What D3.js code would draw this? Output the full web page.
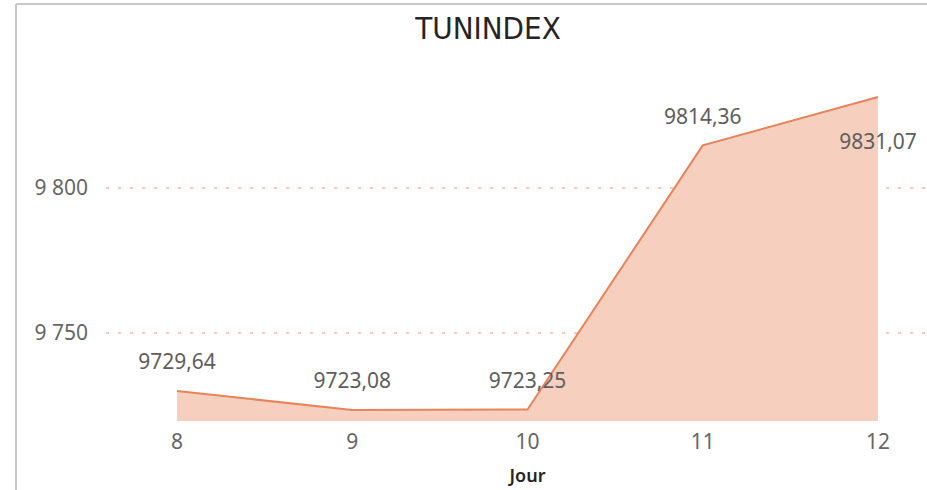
<!DOCTYPE html>
<html>
<head>
<meta charset="utf-8">
<script src="https://cdn.jsdelivr.net/npm/d3@7"></script>
<style>
  body { margin: 0; background: #fff; }
  svg { display: block; }
</style>
</head>
<body>
<div id="container"></div>
<script>
// data
const jours = [8, 9, 10, 11, 12];
const valeurs = [9729.64, 9723.08, 9723.25, 9814.36, 9831.07];
const yTicks = [9750, 9800];

const width = 927, height = 490;

const svg = d3.select("#container").append("svg")
  .attr("width", width)
  .attr("height", height);

// card border (left + top)
svg.append("line").attr("x1", 16).attr("x2", 16).attr("y1", 4).attr("y2", height)
  .attr("stroke", "#c8c8c8").attr("stroke-width", 2);
svg.append("line").attr("x1", 16).attr("x2", width).attr("y1", 4).attr("y2", 4)
  .attr("stroke", "#c8c8c8").attr("stroke-width", 2);

// title
svg.append("text")
  .attr("x", 488).attr("y", 39)
  .attr("text-anchor", "middle")
  .style("font-family", "'DejaVu Sans Condensed', 'Liberation Sans Narrow', sans-serif")
  .style("font-size", "31px")
  .attr("fill", "#252423")
  .text("TUNINDEX");

const x = d3.scaleLinear().domain([8, 12]).range([177, 878]);
const y = d3.scaleLinear().domain([9719.3, 9843.8]).range([421, 60]);

const fontLbl = "'Segoe UI', 'Noto Sans', 'Open Sans', sans-serif";

// gridlines
svg.selectAll(".grid")
  .data(yTicks)
  .join("line")
  .attr("class", "grid")
  .attr("x1", 106).attr("x2", width)
  .attr("y1", d => y(d) + 1).attr("y2", d => y(d) + 1)
  .attr("stroke", "#f4b9a0")
  .attr("stroke-width", 1.5)
  .attr("stroke-dasharray", "3,9");

// y tick labels
const fmtY = d => d3.format(",")(d).replace(",", " ");
svg.selectAll(".ylab")
  .data(yTicks)
  .join("text")
  .attr("class", "ylab")
  .attr("x", 88)
  .attr("y", d => y(d) + 1)
  .attr("dy", "0.35em")
  .attr("text-anchor", "end")
  .style("font-family", fontLbl)
  .style("font-size", "21px")
  .attr("fill", "#666666")
  .text(fmtY);

// area + line
const pts = jours.map((j, i) => ({ j, v: valeurs[i] }));
const area = d3.area().x(d => x(d.j)).y0(y(9719.3)).y1(d => y(d.v));
const line = d3.line().x(d => x(d.j)).y(d => y(d.v));

svg.append("path").datum(pts)
  .attr("d", area)
  .attr("fill", "#f6cfbf");

svg.append("path").datum(pts)
  .attr("d", line)
  .attr("fill", "none")
  .attr("stroke", "#e8835b")
  .attr("stroke-width", 2);

// x tick labels
svg.selectAll(".xlab")
  .data(jours)
  .join("text")
  .attr("class", "xlab")
  .attr("x", d => x(d))
  .attr("y", 449)
  .attr("text-anchor", "middle")
  .style("font-family", fontLbl)
  .style("font-size", "21px")
  .attr("fill", "#666666")
  .text(d => d);

// axis title
svg.append("text")
  .attr("x", x(10)).attr("y", 482)
  .attr("text-anchor", "middle")
  .style("font-family", fontLbl)
  .style("font-size", "18px")
  .style("font-weight", "600")
  .attr("fill", "#252423")
  .text("Jour");

// data labels
const fmtV = d => d.toFixed(2).replace(".", ",");
svg.selectAll(".dlab")
  .data(pts)
  .join("text")
  .attr("class", "dlab")
  .attr("x", d => x(d.j))
  .attr("y", d => y(d.v) - 30 < 70 ? y(d.v) + 45 : y(d.v) - 29)
  .attr("dy", "0.35em")
  .attr("text-anchor", "middle")
  .style("font-family", fontLbl)
  .style("font-size", "21px")
  .attr("fill", "#605e5c")
  .text(d => fmtV(d.v));
</script>
</body>
</html>
